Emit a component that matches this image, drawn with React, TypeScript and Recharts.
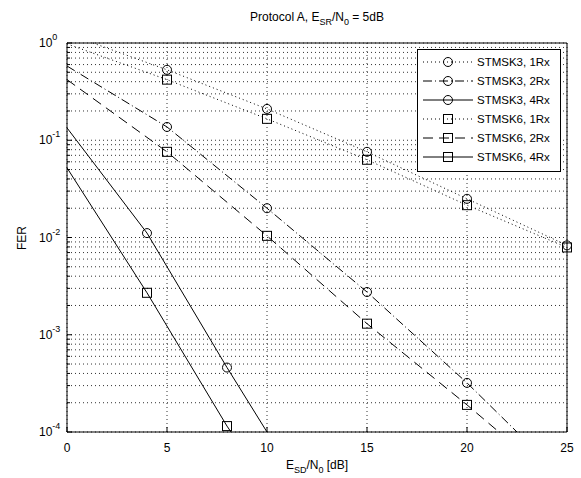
import { ComposedChart, Line, XAxis, YAxis, CartesianGrid, Legend } from "recharts";

// x positions (dB) of each curve and the FER values
// (the 1Rx curves start where they come in through the top border)
const snrStmsk3_1Rx = [1.3, 5, 10, 15, 20, 25];
const ferStmsk3_1Rx = [1, 0.53, 0.21, 0.076, 0.025, 0.0083];
const snrStmsk6_1Rx = [0, 5, 10, 15, 20, 25];
const ferStmsk6_1Rx = [0.98, 0.42, 0.166, 0.063, 0.0215, 0.0079];

const snrStmsk3_2Rx = [0, 5, 10, 15, 20, 22.5];
const ferStmsk3_2Rx = [0.58, 0.137, 0.02, 0.00275, 0.00032, 0.0001];
const snrStmsk6_2Rx = [0, 5, 10, 15, 20, 21.6];
const ferStmsk6_2Rx = [0.42, 0.076, 0.0104, 0.0013, 0.00019, 0.0001];

const snrStmsk3_4Rx = [0, 4, 8, 10];
const ferStmsk3_4Rx = [0.134, 0.0111, 0.00046, 0.0001];
const snrStmsk6_4Rx = [0, 4, 8, 8.2];
const ferStmsk6_4Rx = [0.052, 0.0027, 0.000115, 0.0001];

// where the simulated points (markers) sit
const marks1Rx = [5, 10, 15, 20, 25];
const marks2Rx = [5, 10, 15, 20];
const marks4Rx = [4, 8];

const xTicks = [0, 5, 10, 15, 20, 25];
const yDecades = [1e-4, 1e-3, 1e-2, 1e-1, 1];
const yMinorSteps = [2, 3, 4, 5, 6, 7, 8, 9];

const yTicks = yDecades.flatMap((d, i) =>
  i === yDecades.length - 1 ? [d] : [d, ...yMinorSteps.map((m) => d * m)]
);

const FONT = "'Liberation Sans', Arial, sans-serif";

const toPoints = (xs: number[], ys: number[]) => xs.map((x, i) => ({ x, y: ys[i] }));

const SERIES = [
  { name: "STMSK3, 1Rx", data: toPoints(snrStmsk3_1Rx, ferStmsk3_1Rx), marks: marks1Rx, shape: "circle", dash: "1 3" },
  { name: "STMSK3, 2Rx", data: toPoints(snrStmsk3_2Rx, ferStmsk3_2Rx), marks: marks2Rx, shape: "circle", dash: "9 3 1 3" },
  { name: "STMSK3, 4Rx", data: toPoints(snrStmsk3_4Rx, ferStmsk3_4Rx), marks: marks4Rx, shape: "circle", dash: undefined },
  { name: "STMSK6, 1Rx", data: toPoints(snrStmsk6_1Rx, ferStmsk6_1Rx), marks: marks1Rx, shape: "square", dash: "1 3" },
  { name: "STMSK6, 2Rx", data: toPoints(snrStmsk6_2Rx, ferStmsk6_2Rx), marks: marks2Rx, shape: "square", dash: "10 6" },
  { name: "STMSK6, 4Rx", data: toPoints(snrStmsk6_4Rx, ferStmsk6_4Rx), marks: marks4Rx, shape: "square", dash: undefined },
];

const Marker = ({ cx, cy, shape }: { cx: number; cy: number; shape: string }) =>
  shape === "circle" ? (
    <circle cx={cx} cy={cy} r={4.5} fill="none" stroke="#000" strokeWidth={1} />
  ) : (
    <rect x={cx - 4.5} y={cy - 4.5} width={9} height={9} fill="none" stroke="#000" strokeWidth={1} />
  );

const isMajor = (v: number) => Math.abs(Math.log10(v) - Math.round(Math.log10(v))) < 1e-6;

const LeftTick = ({ x, y, payload }: any) => {
  const v = payload.value;
  const major = isMajor(v);
  return (
    <g>
      <line x1={x} x2={x + (major ? 5 : 3)} y1={y} y2={y} stroke="#000" />
      {major && (
        <text x={x - 28} y={y + 4} fontSize={12} fontFamily={FONT} fill="#000">
          10
          <tspan dy={-7} fontSize={9}>
            {Math.round(Math.log10(v))}
          </tspan>
        </text>
      )}
    </g>
  );
};

const RightTick = ({ x, y, payload }: any) => (
  <line x1={x} x2={x - (isMajor(payload.value) ? 5 : 3)} y1={y} y2={y} stroke="#000" />
);

const BottomTick = ({ x, y, payload }: any) => (
  <g>
    <line x1={x} x2={x} y1={y} y2={y - 5} stroke="#000" />
    <text x={x} y={y + 20} textAnchor="middle" fontSize={12} fontFamily={FONT} fill="#000">
      {payload.value}
    </text>
  </g>
);

const TopTick = ({ x, y }: any) => <line x1={x} x2={x} y1={y} y2={y + 5} stroke="#000" />;

const LegendBox = () => (
  <svg width={144} height={123} style={{ display: "block" }}>
    <rect x={0.5} y={0.5} width={143} height={122} fill="#fff" stroke="#000" />
    {SERIES.map((s, i) => {
      const cy = 13 + i * 19;
      return (
        <g key={s.name}>
          <line x1={6} x2={56} y1={cy} y2={cy} stroke="#000" strokeDasharray={s.dash} />
          <Marker cx={31} cy={cy} shape={s.shape} />
          <text x={60} y={cy + 4} fontSize={11.5} fontFamily={FONT} fill="#000">
            {s.name}
          </text>
        </g>
      );
    })}
  </svg>
);

export default function App() {
  return (
    <div style={{ position: "absolute", left: 0, top: 0, width: 581, height: 478, background: "#fff" }}>
      <ComposedChart width={581} height={478} margin={{ top: 33, right: 4, bottom: 16, left: 27 }}>
        <CartesianGrid stroke="#333" strokeDasharray="1 3" />
        <XAxis
          dataKey="x"
          type="number"
          domain={[0, 25]}
          ticks={xTicks}
          height={30}
          tickSize={0}
          tickMargin={0}
          tick={<BottomTick />}
          axisLine={{ stroke: "#000" }}
          tickLine={false}
        />
        <XAxis
          xAxisId="top"
          orientation="top"
          dataKey="x"
          type="number"
          domain={[0, 25]}
          ticks={xTicks}
          height={10}
          tickSize={0}
          tickMargin={0}
          tick={<TopTick />}
          axisLine={{ stroke: "#000" }}
          tickLine={false}
        />
        <YAxis
          type="number"
          scale="log"
          domain={[1e-4, 1]}
          ticks={yTicks}
          width={40}
          tickSize={0}
          tickMargin={0}
          tick={<LeftTick />}
          axisLine={{ stroke: "#000" }}
          tickLine={false}
          interval={0}
        />
        <YAxis
          yAxisId="right"
          orientation="right"
          type="number"
          scale="log"
          domain={[1e-4, 1]}
          ticks={yTicks}
          width={10}
          tickSize={0}
          tickMargin={0}
          tick={<RightTick />}
          axisLine={{ stroke: "#000" }}
          tickLine={false}
          interval={0}
        />
        {SERIES.map((s) => (
          <Line
            key={s.name}
            data={s.data}
            dataKey="y"
            name={s.name}
            type="linear"
            stroke="#000"
            strokeWidth={1}
            strokeDasharray={s.dash}
            isAnimationActive={false}
            activeDot={false}
            dot={(p: any) =>
              s.marks.includes(p.payload.x) ? (
                <Marker key={`${s.name}-${p.index}`} cx={p.cx} cy={p.cy} shape={s.shape} />
              ) : (
                <g key={`${s.name}-${p.index}`} />
              )
            }
          />
        ))}
        <Legend
          layout="horizontal"
          align="center"
          verticalAlign="middle"
          content={() => <LegendBox />}
          wrapperStyle={{ left: 417, top: 49, width: 144, height: 123 }}
        />
      </ComposedChart>
      <svg
        width={581}
        height={478}
        style={{ position: "absolute", left: 0, top: 0, pointerEvents: "none" }}
      >
        <text x={317} y={21} textAnchor="middle" fontSize={12} fontFamily={FONT} fill="#000">
          Protocol A, E
          <tspan dy={4} fontSize={9}>SR</tspan>
          <tspan dy={-4} fontSize={12}>/N</tspan>
          <tspan dy={4} fontSize={9}>0</tspan>
          <tspan dy={-4} fontSize={12}> = 5dB</tspan>
        </text>
        <text x={317} y={469} textAnchor="middle" fontSize={12} fontFamily={FONT} fill="#000">
          E
          <tspan dy={4} fontSize={9}>SD</tspan>
          <tspan dy={-4} fontSize={12}>/N</tspan>
          <tspan dy={4} fontSize={9}>0</tspan>
          <tspan dy={-4} fontSize={12}> [dB]</tspan>
        </text>
        <text
          x={26}
          y={238}
          textAnchor="middle"
          fontSize={12}
          fontFamily={FONT}
          fill="#000"
          transform="rotate(-90 26 238)"
        >
          FER
        </text>
      </svg>
    </div>
  );
}
